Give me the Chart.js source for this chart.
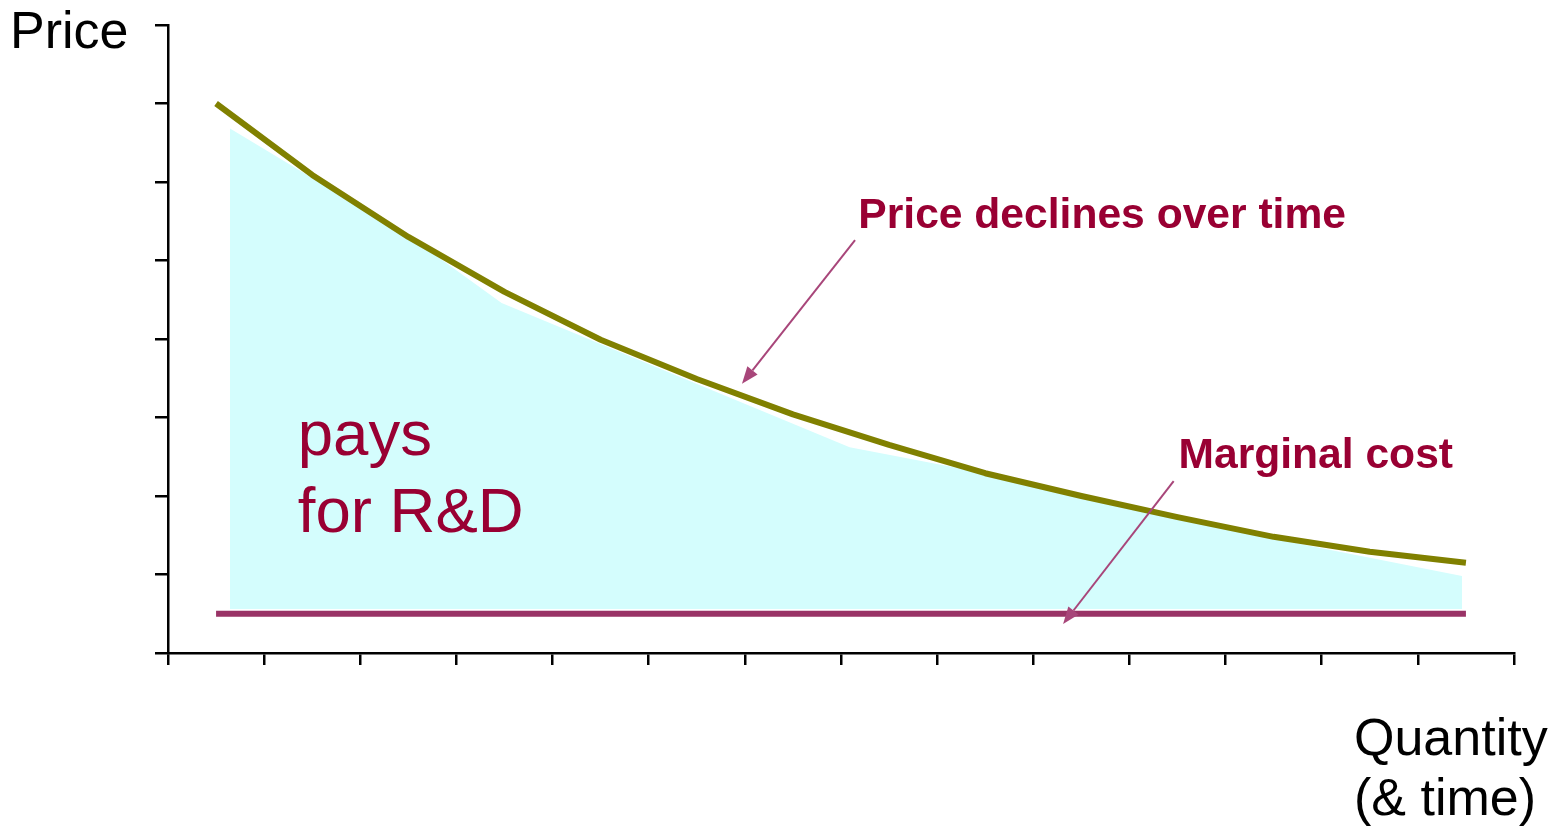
<!DOCTYPE html>
<html>
<head>
<meta charset="utf-8">
<style>
  html, body { margin: 0; padding: 0; background: #ffffff; }
  #wrap { width: 1559px; height: 828px; position: relative; }
</style>
<script src="https://cdn.jsdelivr.net/npm/chart.js@4/dist/chart.umd.min.js"></script>
</head>
<body>
<div id="wrap"><canvas id="chart" width="1559" height="828"></canvas></div>
<script>
// Quantity (time) positions of the price observations
const quantity = [0.5, 1.5, 2.5, 3.5, 4.5, 5.5, 6.5, 7.5, 8.5, 9.5, 10.5, 11.5, 12.5, 13.5];
// Price charged at each quantity
const price = [7.0, 6.09, 5.3, 4.6, 3.99, 3.49, 3.04, 2.65, 2.29, 2.0, 1.73, 1.48, 1.29, 1.15];

// Marginal cost: flat
const mcQuantity = [0.5, 13.5];
const marginalCost = [0.5, 0.5];

// Shaded region: revenue above marginal cost that pays for R&D
const rdQuantity = [0.645, 2.52, 3.47, 7.09, 8.5, 9.5, 10.5, 11.49, 13.46];
const rdTop = [6.68, 5.3, 4.46, 2.62, 2.29, 1.99, 1.72, 1.46, 0.98];
const rdFloor = 0.56;

// Axis extents and tick step
const xMax = 14;
const yMax = 8;

const pts = (xs, ys) => xs.map((x, i) => ({ x: x, y: ys[i] }));

const TEXT_RED = '#990033';
const ARROW = '#a8467a';

// Labels and arrows placed in data coordinates
const notes = [
  { text: 'Price declines over time', x: 7.18, y: 5.41, font: 'bold 42.6px "Liberation Sans", Arial, sans-serif', color: TEXT_RED },
  { text: 'Marginal cost', x: 10.51, y: 2.36, font: 'bold 42.6px "Liberation Sans", Arial, sans-serif', color: TEXT_RED },
  { text: 'pays', x: 1.35, y: 2.52, font: '63.5px "Liberation Sans", Arial, sans-serif', color: TEXT_RED },
  { text: 'for R&D', x: 1.35, y: 1.54, font: '63.5px "Liberation Sans", Arial, sans-serif', color: TEXT_RED }
];
const arrows = [
  { from: [7.146, 5.26], to: [5.97, 3.43] },
  { from: [10.46, 2.19], to: [9.31, 0.37] }
];

const annotations = {
  id: 'annotations',
  afterDatasetsDraw(chart) {
    const { ctx, scales: { x, y }, chartArea } = chart;
    ctx.save();
    // arrows
    arrows.forEach(a => {
      const x1 = x.getPixelForValue(a.from[0]), y1 = y.getPixelForValue(a.from[1]);
      const x2 = x.getPixelForValue(a.to[0]), y2 = y.getPixelForValue(a.to[1]);
      const ang = Math.atan2(y2 - y1, x2 - x1);
      const headLen = 17, headHalf = 6.5;
      const bx = x2 - headLen * Math.cos(ang), by = y2 - headLen * Math.sin(ang);
      ctx.strokeStyle = ARROW;
      ctx.lineWidth = 2;
      ctx.beginPath();
      ctx.moveTo(x1, y1);
      ctx.lineTo(bx, by);
      ctx.stroke();
      ctx.fillStyle = ARROW;
      ctx.beginPath();
      ctx.moveTo(x2, y2);
      ctx.lineTo(bx + headHalf * Math.sin(ang), by - headHalf * Math.cos(ang));
      ctx.lineTo(bx - headHalf * Math.sin(ang), by + headHalf * Math.cos(ang));
      ctx.closePath();
      ctx.fill();
    });
    // text notes
    ctx.textAlign = 'left';
    ctx.textBaseline = 'alphabetic';
    notes.forEach(n => {
      ctx.font = n.font;
      ctx.fillStyle = n.color;
      ctx.fillText(n.text, x.getPixelForValue(n.x), y.getPixelForValue(n.y));
    });
    // axis titles
    ctx.fillStyle = '#000000';
    ctx.font = '52px "Liberation Sans", Arial, sans-serif';
    ctx.fillText('Price', chartArea.left - 158, chartArea.top + 23);
    ctx.fillText('Quantity', chartArea.right - 160, chartArea.bottom + 102);
    ctx.fillText('(& time)', chartArea.right - 160, chartArea.bottom + 162);
    ctx.restore();
  }
};

const axisCommon = {
  type: 'linear',
  ticks: { display: false, stepSize: 1 },
  grid: { drawOnChartArea: false, drawTicks: true, color: '#000000', lineWidth: 2.5 },
  border: { display: true, color: '#000000', width: 2.5 },
  title: { display: false }
};

new Chart(document.getElementById('chart'), {
  type: 'line',
  data: {
    datasets: [
      {
        label: 'Price',
        data: pts(quantity, price),
        borderColor: '#808000',
        borderWidth: 6,
        borderCapStyle: 'butt',
        borderJoinStyle: 'round',
        pointRadius: 0,
        tension: 0,
        fill: false
      },
      {
        label: 'Marginal cost',
        data: pts(mcQuantity, marginalCost),
        borderColor: '#993366',
        borderWidth: 6,
        borderCapStyle: 'butt',
        pointRadius: 0,
        tension: 0,
        fill: false
      },
      {
        label: 'pays for R&D',
        data: pts(rdQuantity, rdTop),
        borderWidth: 0,
        borderColor: 'rgba(0,0,0,0)',
        backgroundColor: '#d4fdfd',
        pointRadius: 0,
        tension: 0,
        fill: { value: rdFloor }
      }
    ]
  },
  options: {
    responsive: false,
    animation: false,
    events: [],
    layout: { padding: { left: 155, right: 45, top: 25, bottom: 163 } },
    plugins: {
      legend: { display: false },
      tooltip: { enabled: false },
      title: { display: false }
    },
    scales: {
      x: Object.assign({}, axisCommon, {
        min: 0, max: xMax,
        grid: Object.assign({}, axisCommon.grid, { tickLength: 12 }),
        afterFit(scale) { scale.height = 12; }
      }),
      y: Object.assign({}, axisCommon, {
        min: 0, max: yMax,
        grid: Object.assign({}, axisCommon.grid, { tickLength: 13 }),
        afterFit(scale) { scale.width = 13; }
      })
    }
  },
  plugins: [annotations]
});
</script>
</body>
</html>
